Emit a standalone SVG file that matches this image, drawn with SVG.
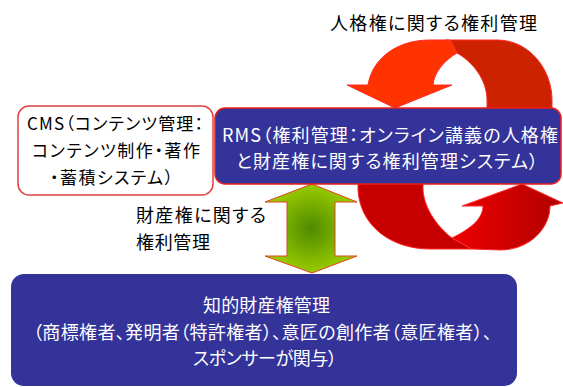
<svg xmlns="http://www.w3.org/2000/svg" width="563" height="387" viewBox="0 0 563 387">
<style>
text{font-family:"Noto Sans CJK JP","Noto Sans",sans-serif;font-size:18px;font-feature-settings:"palt";}
.dk{fill:#000;}
.wt{fill:#fff;}
.box{fill:#333399;stroke:#ee1c1c;stroke-width:1.5;}
.cms{fill:#fff;stroke:#e04040;stroke-width:1.5;}
.rib{stroke:#ff2a2a;stroke-width:1;stroke-linejoin:round;}
</style>
<defs>
<radialGradient id="gg" cx="0.5" cy="0.5" r="0.5">
<stop offset="0" stop-color="#4f8a00"/>
<stop offset="1" stop-color="#99cc00"/>
</radialGradient>
<linearGradient id="rg" x1="0" y1="0" x2="1" y2="0">
<stop offset="0" stop-color="#ee0000"/>
<stop offset="1" stop-color="#b00000"/>
</linearGradient>
</defs>
<rect width="563" height="387" fill="#fff"/>
<g id="connectors">
<path class="rib" fill="#cc2200" d="M445,40 L497,40 C530,40 552,70 552,100 L552,115 L487,115 L487,100 C487,80 473,62 457,53 Z"/>
<path class="rib" fill="#ff3300" d="M347,85 L368,85 C372,60 395,40 430,40 L450,40 C453,44 455,48 457,53 C445,60 434,72 433,85 L452,85 L395,108 Z"/>
<path class="rib" fill="#c60000" d="M358,178 L358,190 C360,225 390,249 430,249 L472,249 L452,238 C435,225 423,205 423,188 L423,178 Z"/>
<path class="rib" fill="url(#rg)" d="M452,238 C468,230 483,220 483,206 L462,206 L522,184 L563,203 L550,206 C550,228 530,250 500,250 L472,249 Z"/>
<path fill="url(#gg)" stroke="#dd4422" stroke-width="1" d="M312,184 L357,202 L335,202 L335,256 L357,256 L312,273 L265,256 L287,256 L287,202 L265,202 Z"/>
<text class="dk" x="330" y="30" textLength="207" lengthAdjust="spacing">人格権に関する権利管理</text>
<text class="dk" x="136" y="222" textLength="130" lengthAdjust="spacing">財産権に関する</text>
<text class="dk" x="136" y="249" textLength="74" lengthAdjust="spacing">権利管理</text>
</g>
<g id="rms">
<rect class="box" x="215" y="108" width="346" height="76" rx="10"/>
<text class="wt" x="222" y="142" textLength="336" lengthAdjust="spacing">RMS（権利管理：オンライン講義の人格権</text>
<text class="wt" x="236" y="168" textLength="302" lengthAdjust="spacing">と財産権に関する権利管理システム）</text>
</g>
<g id="cms">
<rect class="cms" x="18" y="106" width="195" height="89" rx="11"/>
<text class="dk" x="27" y="129.5" font-size="17" textLength="176" lengthAdjust="spacing" style="font-size:17px">CMS（コンテンツ管理：</text>
<text class="dk" x="32" y="156.5" textLength="168" lengthAdjust="spacing" style="font-size:17px">コンテンツ制作・著作</text>
<text class="dk" x="50" y="183.5" textLength="123" lengthAdjust="spacing" style="font-size:17px">・蓄積システム）</text>
</g>
<g id="ip">
<rect x="11" y="274" width="506" height="112" rx="13" fill="#333399"/>
<text class="wt" x="203" y="312" textLength="127" lengthAdjust="spacing">知的財産権管理</text>
<text class="wt" x="33" y="339" textLength="459" lengthAdjust="spacing">（商標権者、発明者（特許権者）、意匠の創作者（意匠権者）、</text>
<text class="wt" x="193" y="365" textLength="144" lengthAdjust="spacing">スポンサーが関与）</text>
</g>
</svg>
